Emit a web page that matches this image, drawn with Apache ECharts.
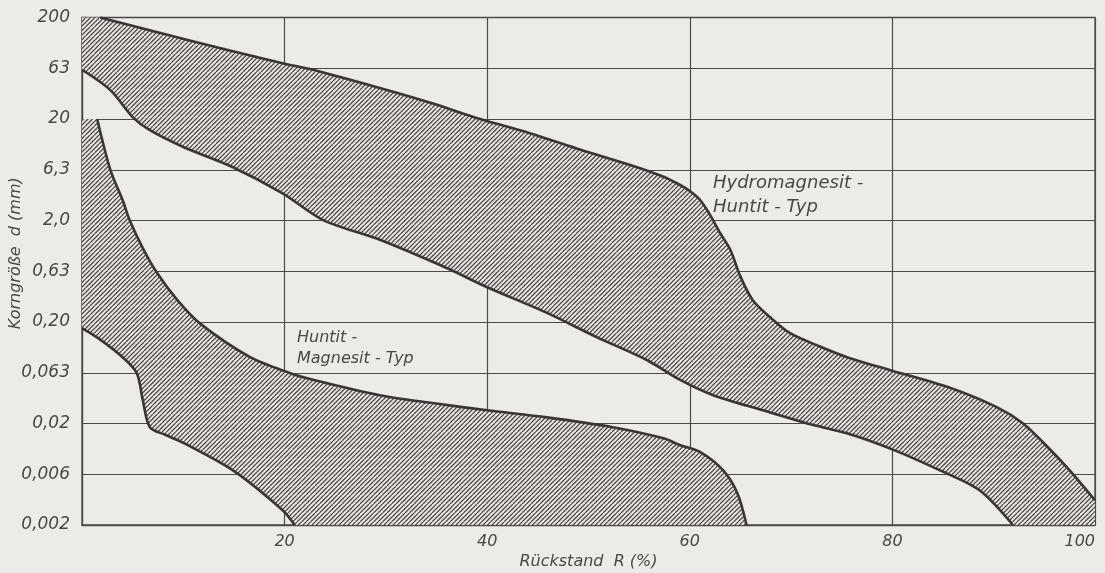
<!DOCTYPE html>
<html>
<head>
<meta charset="utf-8">
<title>Korngröße</title>
<script src="https://cdn.jsdelivr.net/npm/echarts@6/dist/echarts.min.js"></script>
<style>
  html, body { margin: 0; padding: 0; background: #ecebe8; }
  #chart { width: 1105px; height: 573px; }
</style>
</head>
<body>
<div id="chart"></div>
<script>
// x: Rückstand R (%), y: Korngröße d (mm)
const yLabels = ["0,002", "0,006", "0,02", "0,063", "0,20", "0,63", "2,0", "6,3", "20", "63", "200"];

// Hydromagnesit - Huntit - Typ
const hydroUpper = [
  [1.8, 200], [11.6, 112], [19.8, 71], [22.8, 61.1], [29.4, 40.4], [34.4, 28.9],
  [39.3, 20], [44.2, 14.5], [49.3, 9.9], [54.2, 7.0], [57.4, 5.4], [59.0, 4.5],
  [60.0, 3.9], [61.0, 3.2], [62.0, 2.27], [63.0, 1.5], [64.0, 1.03], [65.0, 0.56],
  [66.2, 0.33], [67.9, 0.224], [69.9, 0.155], [72.9, 0.114], [75.8, 0.088],
  [79.8, 0.067], [85.4, 0.046], [90.3, 0.029], [92.9, 0.02], [95.3, 0.0118],
  [97.5, 0.0069], [100, 0.0035]
];
const hydroLower = [
  [0, 61.1], [2.8, 38.5], [5.0, 20.9], [6.7, 15.5], [10.0, 10.6], [14.9, 6.7],
  [19.8, 3.7], [23.8, 2.02], [29.4, 1.29], [36.0, 0.68], [40.0, 0.44], [45.9, 0.246],
  [50.8, 0.142], [55.8, 0.084], [59.0, 0.054], [62.3, 0.038], [67.2, 0.027],
  [71.6, 0.02], [75.5, 0.016], [80.1, 0.011], [84.7, 0.0069], [88.6, 0.0044],
  [91.9, 0.002]
];

// Huntit - Magnesit - Typ
const huntitUpper = [
  [1.5, 20], [2.8, 6.3], [4.0, 3.2], [4.7, 2.02], [6.0, 1.07], [7.4, 0.61],
  [9.4, 0.33], [11.6, 0.195], [16.6, 0.09], [20.5, 0.063], [22.8, 0.054],
  [29.4, 0.038], [34.4, 0.032], [40.0, 0.027], [45.9, 0.023], [52.4, 0.0184],
  [57.4, 0.0143], [59.0, 0.0123], [61.0, 0.0105], [63.3, 0.0069], [64.7, 0.0041],
  [65.6, 0.002]
];
const huntitLower = [
  [0, 0.174], [1.8, 0.134], [4.0, 0.09], [5.4, 0.063], [6.0, 0.034], [6.7, 0.0184],
  [8.2, 0.0155], [10.0, 0.0129], [14.9, 0.0069], [19.8, 0.0028], [21.0, 0.002]
];

// mm -> position on the half-decade axis (0,002 = 0 ... 200 = 10)
function toIdx(d) {
  return 2 * Math.log10(d / 0.002);
}

// hatch pattern "////"
function makeHatch() {
  const s = 9;
  const c = document.createElement("canvas");
  c.width = s;
  c.height = s;
  const ctx = c.getContext("2d");
  ctx.fillStyle = "#ecebe8";
  ctx.fillRect(0, 0, s, s);
  ctx.strokeStyle = "#524d4c";
  ctx.lineWidth = 1.3;
  for (let k = -s; k <= s; k += s / 2) {
    ctx.beginPath();
    ctx.moveTo(k, s);
    ctx.lineTo(k + s, 0);
    ctx.stroke();
  }
  return c;
}
const hatch = makeHatch();

function bandSeries(name, corner, upper, endCorner, lower) {
  return {
    name: name,
    type: "custom",
    silent: true,
    data: [[0, 0]],
    renderItem: function (params, api) {
      const pt = (p) => api.coord([p[0], toIdx(p[1])]);
      let outline = [corner].concat(upper);
      if (endCorner) outline.push(endCorner);
      outline = outline.concat(lower.slice().reverse());
      const lineStyle = { fill: null, stroke: "#3b3636", lineWidth: 2.6 };
      return {
        type: "group",
        children: [
          {
            type: "polygon",
            shape: { points: outline.map(pt) },
            style: { fill: { image: hatch, repeat: "repeat" }, stroke: null }
          },
          {
            type: "polyline",
            shape: { points: upper.map(pt), smooth: 0.3 },
            style: lineStyle
          },
          {
            type: "polyline",
            shape: { points: lower.map(pt), smooth: 0.3 },
            style: lineStyle
          }
        ]
      };
    }
  };
}

const myChart = echarts.init(document.getElementById("chart"));
const textColor = "#4a4747";
const font = "DejaVu Sans";

const option = {
  backgroundColor: "#ecebe8",
  animation: false,
  grid: {
    left: 82,
    right: 10,
    top: 17.5,
    bottom: 48,
    containLabel: false,
    outerBoundsMode: "none",
    show: true,
    borderColor: "#4d4a4a",
    borderWidth: 1.3
  },
  xAxis: {
    type: "value",
    min: 0,
    max: 100,
    interval: 20,
    name: "Rückstand  R (%)",
    nameLocation: "middle",
    nameGap: 29,
    nameMoveOverlap: false,
    nameTextStyle: { color: textColor, fontFamily: font, fontStyle: "italic", fontSize: 16 },
    axisLine: { show: true, lineStyle: { color: "#4d4a4a", width: 1.3 } },
    axisTick: { show: false },
    axisLabel: {
      color: textColor,
      fontFamily: font,
      fontStyle: "italic",
      fontSize: 16,
      margin: 9,
      alignMaxLabel: "right",
      formatter: (v) => (v === 0 ? "" : String(v))
    },
    splitLine: { show: true, lineStyle: { color: "#4d4a4a", width: 1.2 } }
  },
  yAxis: {
    type: "value",
    min: 0,
    max: 10,
    interval: 1,
    name: "Korngröße  d (mm)",
    nameLocation: "middle",
    nameGap: 58,
    nameRotate: 90,
    nameMoveOverlap: false,
    nameTextStyle: {
      color: textColor, fontFamily: font, fontStyle: "italic", fontSize: 16,
      padding: [0, 0, 0, 36]
    },
    axisLine: { show: true, lineStyle: { color: "#4d4a4a", width: 1.3 } },
    axisTick: { show: false },
    axisLabel: {
      color: textColor,
      fontFamily: font,
      fontStyle: "italic",
      fontSize: 17,
      margin: 12,
      formatter: (v) => yLabels[Math.round(v)]
    },
    splitLine: { show: true, lineStyle: { color: "#4d4a4a", width: 1.2 } }
  },
  graphic: [
    {
      type: "text", left: 713, top: 171, silent: true,
      style: {
        text: "Hydromagnesit -\nHuntit - Typ", fill: textColor, font: "italic 18px 'DejaVu Sans'",
        lineHeight: 24
      }
    },
    {
      type: "text", left: 297, top: 327, silent: true,
      style: {
        text: "Huntit -\nMagnesit - Typ", fill: textColor, font: "italic 16px 'DejaVu Sans'",
        lineHeight: 21
      }
    }
  ],
  series: [
    bandSeries("Hydromagnesit - Huntit - Typ", [0, 200], hydroUpper, [100, 0.002], hydroLower),
    bandSeries("Huntit - Magnesit - Typ", [0, 20], huntitUpper, null, huntitLower)
  ]
};
myChart.setOption(option);
</script>
</body>
</html>
